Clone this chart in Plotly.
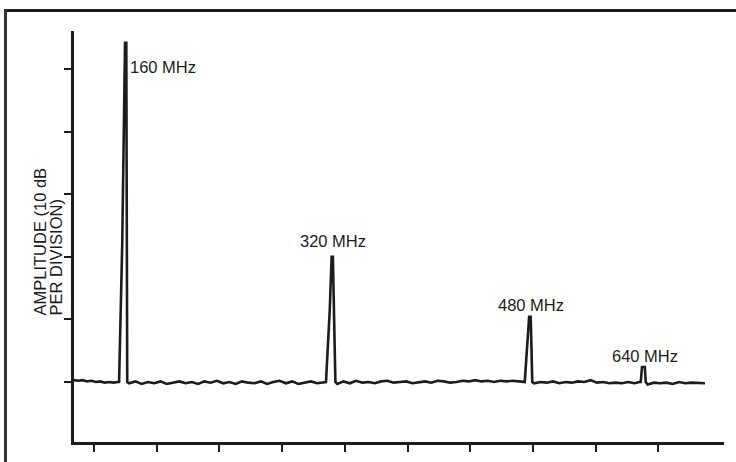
import plotly.graph_objects as go

# Trace of the spectrum analyser display (x in horizontal divisions, y in 10 dB divisions above the noise floor)
seg1_x = [-0.32, -0.25, -0.18, -0.11, -0.04, 0.03, 0.10, 0.17, 0.24, 0.31, 0.38]
seg1_y = [0.03, 0.02, 0.03, 0.01, 0.02, 0.00, 0.01, -0.01, 0.00, -0.01, 0.00]

peak160_x = [0.40, 0.45, 0.495, 0.515, 0.53]
peak160_y = [0.00, 2.20, 5.42, 5.42, 0.00]

seg2_x = [0.56, 0.66, 0.76, 0.86, 0.96, 1.06, 1.16, 1.26, 1.36, 1.46, 1.56, 1.66, 1.76, 1.86,
          1.96, 2.06, 2.16, 2.26, 2.36, 2.46, 2.56, 2.66, 2.76, 2.86, 2.96, 3.06, 3.16, 3.26,
          3.36, 3.46, 3.56, 3.66]
seg2_y = [-0.02, 0.01, -0.03, 0.00, -0.02, 0.01, -0.03, -0.01, 0.01, -0.02, 0.00, -0.03,
          0.01, -0.01, 0.02, -0.02, 0.00, -0.03, 0.01, -0.01, -0.02, 0.01, -0.03, 0.00,
          0.02, -0.02, 0.01, -0.03, -0.01, 0.01, -0.02, 0.00]

peak320_x = [3.70, 3.76, 3.79, 3.81, 3.85]
peak320_y = [0.00, 1.15, 2.00, 2.00, 0.00]

seg3_x = [3.88, 3.98, 4.08, 4.18, 4.28, 4.38, 4.48, 4.58, 4.68, 4.78, 4.88, 4.98, 5.08, 5.18,
          5.28, 5.38, 5.48, 5.58, 5.68, 5.78, 5.88, 5.98, 6.08, 6.18, 6.28, 6.38, 6.48, 6.58,
          6.68, 6.78, 6.85]
seg3_y = [-0.03, 0.01, -0.02, 0.02, -0.01, 0.00, -0.02, 0.01, 0.02, -0.01, 0.00, 0.01,
          -0.02, 0.00, 0.01, -0.01, 0.02, 0.01, -0.01, 0.00, 0.02, 0.01, 0.03, 0.01,
          0.02, 0.00, 0.02, 0.01, 0.02, 0.01, 0.00]

peak480_x = [6.87, 6.94, 6.965, 6.99]
peak480_y = [0.00, 1.04, 1.04, 0.00]

seg4_x = [7.02, 7.12, 7.22, 7.32, 7.42, 7.52, 7.62, 7.72, 7.82, 7.92, 8.02, 8.12, 8.22,
          8.32, 8.42, 8.52, 8.62, 8.70]
seg4_y = [-0.02, 0.00, -0.01, 0.01, -0.02, 0.00, -0.01, 0.01, 0.00, 0.03, -0.01, 0.00,
          -0.02, -0.01, -0.02, 0.00, -0.02, 0.00]

peak640_x = [8.72, 8.74, 8.785, 8.80]
peak640_y = [0.00, 0.24, 0.24, 0.00]

seg5_x = [8.83, 8.93, 9.03, 9.13, 9.23, 9.33, 9.43, 9.53, 9.63, 9.745]
seg5_y = [-0.04, -0.01, -0.02, -0.01, -0.03, 0.00, -0.02, -0.01, -0.02, -0.02]

peak_labels = ["160 MHz", "320 MHz", "480 MHz", "640 MHz"]
label_x = [0.55, 3.81, 6.975, 8.79]
label_y = [5.04, 2.26, 1.23, 0.415]
label_anchor = ["left", "center", "center", "center"]

y_title_lines = ["AMPLITUDE (10 dB", "PER DIVISION)"]

x_ticks = [0, 1, 2, 3, 4, 5, 6, 7, 8, 9]
y_ticks = [0, 1, 2, 3, 4, 5]

trace_x = seg1_x + peak160_x + seg2_x + peak320_x + seg3_x + peak480_x + seg4_x + peak640_x + seg5_x
trace_y = seg1_y + peak160_y + seg2_y + peak320_y + seg3_y + peak480_y + seg4_y + peak640_y + seg5_y

W, H = 736, 462
ink = "#1c1c1c"
font = "Liberation Sans, Arial, sans-serif"

fig = go.Figure()
fig.add_trace(go.Scatter(x=trace_x, y=trace_y, mode="lines",
                         line=dict(color=ink, width=2.6), hoverinfo="skip", showlegend=False))

for t, xv, yv, a in zip(peak_labels, label_x, label_y, label_anchor):
    fig.add_annotation(x=xv, y=yv, xref="x", yref="y", text=t, showarrow=False,
                       xanchor=a, yanchor="middle", font=dict(family=font, size=16.5, color=ink))

# y-axis title: two rotated lines, aligned at their start (bottom)
for t, xc in zip(y_title_lines, [39.5, 55.5]):
    fig.add_annotation(x=xc / W, y=1 - 318 / H, xref="paper", yref="paper",
                       text=t, textangle=-90, showarrow=False,
                       xanchor="center", yanchor="bottom",
                       font=dict(family=font, size=16.5, color=ink))

# outer frame (top and left border of the figure panel)
fig.add_shape(type="line", xref="paper", yref="paper", x0=4 / W, x1=1, y0=1 - 10.5 / H, y1=1 - 10.5 / H,
              line=dict(color=ink, width=3))
fig.add_shape(type="line", xref="paper", yref="paper", x0=5.5 / W, x1=5.5 / W, y0=0, y1=1 - 9 / H,
              line=dict(color="#333333", width=3))

fig.update_layout(
    width=W, height=H,
    margin=dict(l=0, r=0, t=0, b=0),
    paper_bgcolor="white", plot_bgcolor="white",
    xaxis=dict(domain=[74 / W, 724 / W], range=[-0.319, 10.048],
               showgrid=False, zeroline=False, showline=True, linecolor=ink, linewidth=2.5,
               tickmode="array", tickvals=x_ticks, ticks="outside", ticklen=7, tickwidth=2,
               tickcolor=ink, showticklabels=False),
    yaxis=dict(domain=[1 - 442 / H, 1 - 31 / H], range=[-0.958, 5.607],
               showgrid=False, zeroline=False, showline=True, linecolor=ink, linewidth=3,
               tickmode="array", tickvals=y_ticks, ticks="outside", ticklen=7, tickwidth=2,
               tickcolor=ink, showticklabels=False),
)

fig.write_html("out.html", config={"displayModeBar": False},
               post_script="document.body.style.margin='0';document.body.style.overflow='hidden';")
